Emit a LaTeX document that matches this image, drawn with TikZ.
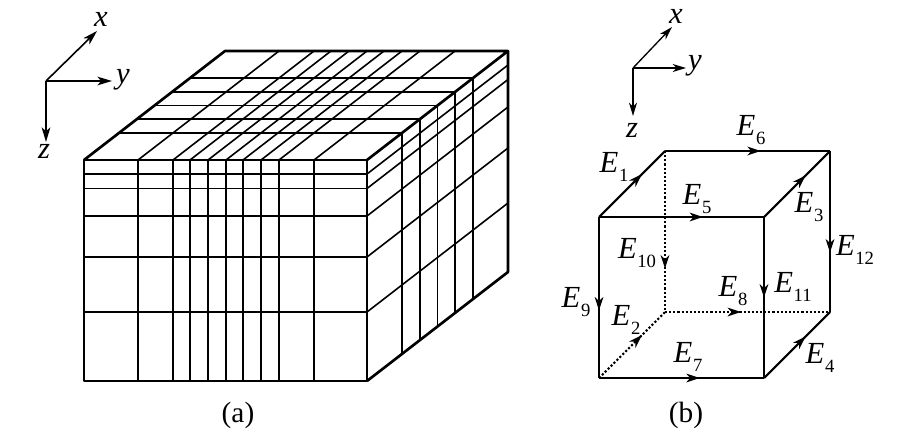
\documentclass[tikz,border=0pt]{standalone}
\usepackage{fontspec}
\newfontfamily\labfont{Liberation Serif}
\usetikzlibrary{arrows.meta,decorations.markings,calc}
\newcommand\Elab[1]{\labfont\fontsize{23}{23}\selectfont\textit{E}\kern0.02em\raisebox{-0.28em}{\fontsize{14}{14}\selectfont #1}}
\tikzset{
  outer/.style={line width=2pt, line join=round},
  inner/.style={line width=1.2pt},
  axisA/.style={line width=1.2pt, -{Stealth[length=11pt,width=6.5pt,inset=3pt]}},
  axisB/.style={line width=1pt, -{Stealth[length=10pt,width=6pt,inset=3pt]}},
  axlab/.style={font=\labfont\fontsize{23}{23}\selectfont\itshape, inner sep=0pt},
  elab/.style={inner sep=0pt},
  caplab/.style={font=\labfont\fontsize{22}{22}\selectfont, inner sep=0pt},
  edgeb/.style={line width=1.6pt},
  hid/.style={line width=1.6pt, dash pattern=on 1.6pt off 1.5pt},
  marr/.style={postaction={decorate, decoration={markings,
     mark=at position #1 with {\arrow{Stealth[length=10pt,width=6.5pt,inset=3pt]}}}}},
}
\begin{document}
\begin{tikzpicture}[x=0.75pt,y=-0.75pt]
\useasboundingbox (0,0) rectangle (898,446);
% ---------------- (a) ----------------
% axes
\coordinate (oa) at (46,81);
\coordinate (xa) at (97,31);
\coordinate (ya) at (112,81);
\coordinate (za) at (46,142);
\draw[axisA] (oa) -- (xa);
\draw[axisA] (oa) -- (ya);
\draw[axisA] (oa) -- (za);
\node[axlab] (lxa) at (101,19) {x};
\node[axlab] (lya) at (123,80) {y};
\node[axlab] (lza) at (44,151) {z};
% interior grid
\foreach \xx in {138,173,190,208,226,243,261,279,314}{
  \draw[inner] (\xx,160) -- (\xx,381);
  \draw[inner] (\xx,160) -- (\xx+141,51);
}
\foreach \zz in {174,188.5,216,257,312}{
  \draw[inner] (84,\zz) -- (367,\zz);
  \draw[inner] (367,\zz) -- (508,\zz-109);
}
\foreach \ff in {0.25,0.375,0.5,0.625,0.75}{
  \draw[inner] (84+141*\ff,160-109*\ff) -- (367+141*\ff,160-109*\ff);
  \draw[inner] (367+141*\ff,160-109*\ff) -- (367+141*\ff,381-109*\ff);
}
% outer edges
\coordinate (A1) at (84,160);
\coordinate (A2) at (367,160);
\coordinate (A3) at (367,381);
\coordinate (A4) at (84,381);
\coordinate (A5) at (225,51);
\coordinate (A6) at (508,51);
\coordinate (A7) at (508,272);
\draw[outer] (A1) -- (A2) -- (A3) -- (A4) -- cycle;
\draw[outer] (A1) -- (A5) -- (A6) -- (A2);
\draw[outer] (A6) -- (A7) -- (A3);
\node[caplab] (capa) at (238,415) {(a)};
% ---------------- (b) ----------------
\coordinate (ob) at (633,68);
\coordinate (xb) at (672,27);
\coordinate (yb) at (686,68);
\coordinate (zb) at (633,116);
\draw[axisB] (ob) -- (xb);
\draw[axisB] (ob) -- (yb);
\draw[axisB] (ob) -- (zb);
\node[axlab] (lxb) at (676,16) {x};
\node[axlab] (lyb) at (695,66) {y};
\node[axlab] (lzb) at (632,130) {z};
% cube corners
\coordinate (F1) at (599,217);
\coordinate (F2) at (764,217);
\coordinate (F3) at (764,378);
\coordinate (F4) at (599,378);
\coordinate (B1) at (665,151);
\coordinate (B2) at (830,151);
\coordinate (B3) at (830,312);
\coordinate (B4) at (665,312);
% hidden edges
\draw[hid,marr=0.73] (B1) -- (B4);
\draw[hid,marr=0.46] (B4) -- (B3);
\draw[hid,marr=0.65] (F4) -- (B4);
% visible edges
\draw[edgeb,marr=0.65] (F1) -- (B1);
\draw[edgeb,marr=0.58] (B1) -- (B2);
\draw[edgeb,marr=0.63] (F2) -- (B2);
\draw[edgeb,marr=0.63] (F1) -- (F2);
\draw[edgeb,marr=0.58] (F1) -- (F4);
\draw[edgeb,marr=0.50] (F2) -- (F3);
\draw[edgeb,marr=0.63] (B2) -- (B3);
\draw[edgeb,marr=0.61] (F4) -- (F3);
\draw[edgeb,marr=0.63] (F3) -- (B3);
% labels
\node[elab] (e1) at (614,167) {\Elab{1}};
\node[elab] (e2) at (626,320) {\Elab{2}};
\node[elab] (e3) at (809,207) {\Elab{3}};
\node[elab] (e4) at (820,358) {\Elab{4}};
\node[elab] (e5) at (697,199) {\Elab{5}};
\node[elab] (e6) at (751,130) {\Elab{6}};
\node[elab] (e7) at (688,357) {\Elab{7}};
\node[elab] (e8) at (733,291) {\Elab{8}};
\node[elab] (e9) at (576,302) {\Elab{9}};
\node[elab] (e10) at (637,253) {\Elab{10}};
\node[elab] (e11) at (793,287) {\Elab{11}};
\node[elab] (e12) at (855,250) {\Elab{12}};
\node[caplab] (capb) at (686,415) {(b)};
\end{tikzpicture}
\end{document}
